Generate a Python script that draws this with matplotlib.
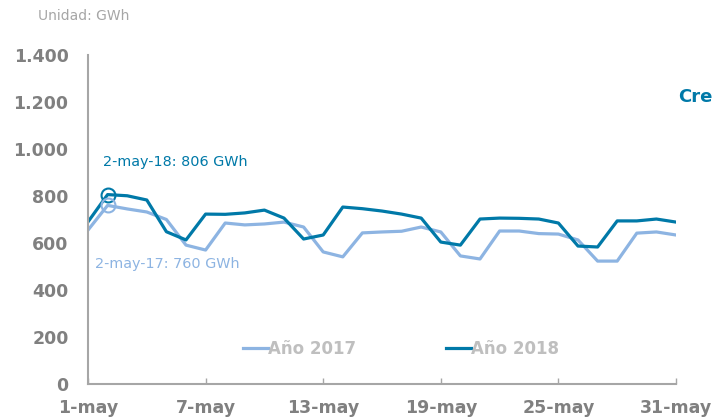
import matplotlib
matplotlib.use("Agg")
from matplotlib import pyplot as plt

days = list(range(1, 32))
demand_2017 = [655, 760, 745, 732, 700, 591, 570, 685, 677, 681, 689, 668, 562, 541, 643,
               647, 650, 668, 647, 545, 532, 651, 651, 640, 638, 613, 523, 523, 642, 647, 634]
demand_2018 = [690, 806, 801, 783, 648, 613, 723, 722, 728, 740, 706, 617, 634, 753, 746,
               736, 723, 706, 604, 591, 702, 706, 705, 702, 685, 587, 583, 694, 694, 702, 689]
xtick_days = [1, 7, 13, 19, 25, 31]
xtick_labels = ['1-may', '7-may', '13-may', '19-may', '25-may', '31-may']
ytick_vals = [0, 200, 400, 600, 800, 1000, 1200, 1400]
ytick_labels = ['0', '200', '400', '600', '800', '1.000', '1.200', '1.400']

dark = '#0079A8'
light = '#8DB4E2'
gray = '#808080'

fig = plt.figure(figsize=(7.14, 4.17), dpi=100)
ax = fig.add_axes([88 / 714, 1 - 384 / 417, (676 - 88) / 714, (384 - 55) / 417])

ax.plot(days, demand_2017, color=light, lw=2.3, label='Año 2017')
ax.plot(days, demand_2018, color=dark, lw=2.3, label='Año 2018')

# punto destacado del 2 de mayo
ax.plot(days[1], demand_2018[1], 'o', ms=10, mfc='none', mec=dark, mew=1.5)
ax.plot(days[1], demand_2017[1], 'o', ms=10, mfc='none', mec=light, mew=1.5)
ax.text(1.77, 945, '2-may-18: 806 GWh', color=dark, fontsize=10.4, ha='left', va='center')
ax.text(1.36, 510, '2-may-17: 760 GWh', color=light, fontsize=10.4, ha='left', va='center')

ax.set_xlim(1, 31)
ax.set_ylim(0, 1400)
ax.set_xticks(xtick_days)
ax.set_xticklabels(xtick_labels)
ax.set_yticks(ytick_vals)
ax.set_yticklabels(ytick_labels)
for lab in ax.get_xticklabels() + ax.get_yticklabels():
    lab.set_fontweight('bold')
    lab.set_color(gray)
    lab.set_fontsize(12.5)
ax.tick_params(axis='x', direction='in', length=4, width=1, color='#A6A6A6', pad=11)
ax.tick_params(axis='y', length=0, pad=14)

for s in ['top', 'right']:
    ax.spines[s].set_visible(False)
for s in ['left', 'bottom']:
    ax.spines[s].set_color('#A6A6A6')
    ax.spines[s].set_linewidth(1.5)

leg = ax.legend(loc='center', bbox_to_anchor=(0.533, 0.107), ncol=2, frameon=False,
                handlelength=1.5, handletextpad=0.0, columnspacing=5.4,
                prop={'weight': 'bold', 'size': 12})
for t in leg.get_texts():
    t.set_color('#BFBFBF')

fig.text(38 / 714, 1 - 16 / 417, 'Unidad: GWh', color='#A6A6A6', fontsize=10, va='center')
fig.text(678 / 714, 1 - 97 / 417, 'Cre', color=dark, fontsize=13,
         fontweight='bold', va='center')

fig.savefig('out.png', dpi=100)
